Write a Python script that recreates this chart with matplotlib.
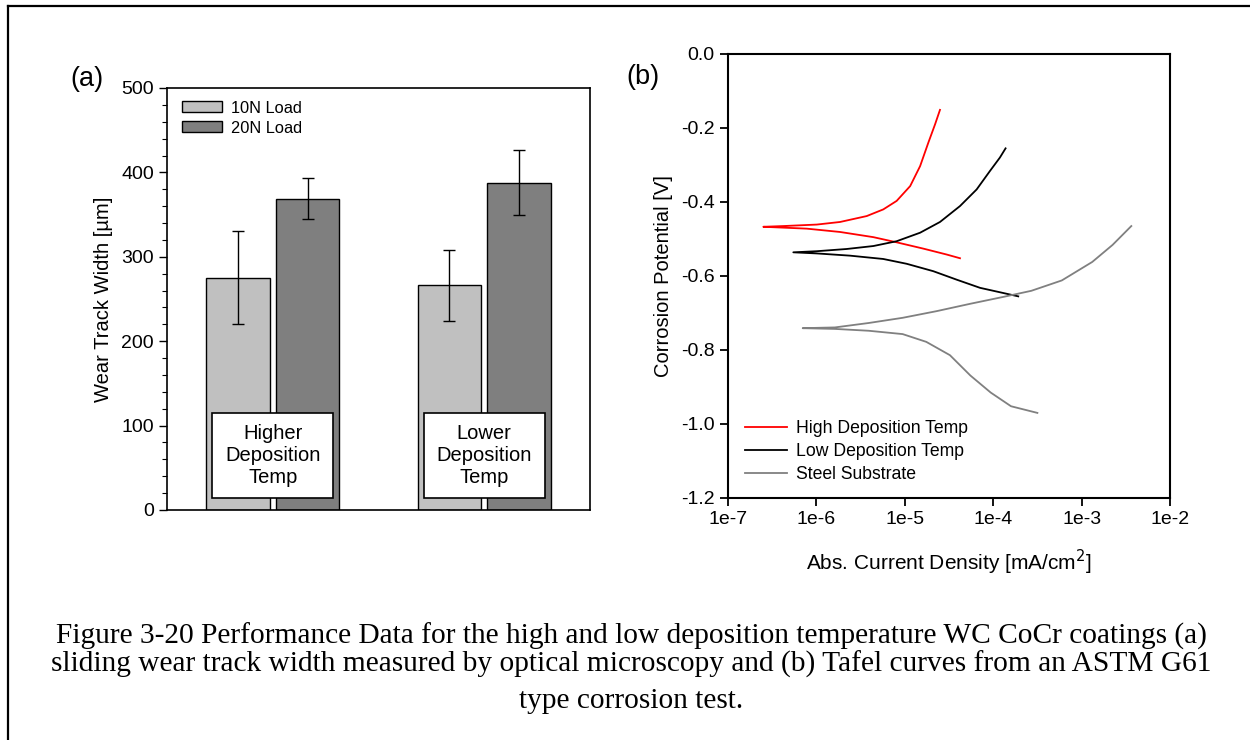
import matplotlib

matplotlib.use("Agg")

import matplotlib.pyplot as plt
from matplotlib.lines import Line2D
from matplotlib.patches import Rectangle

plt.rcParams["font.family"] = ["Liberation Sans", "DejaVu Sans"]
plt.rcParams["axes.unicode_minus"] = False

# (a) sliding wear track width
groups = ["Higher\nDeposition\nTemp", "Lower\nDeposition\nTemp"]
width_10n = [275, 266]
width_20n = [369, 388]
err_10n = [55, 42]
err_20n = [24, 38]

# (b) Tafel curves, each branch read from the Ecorr point outward
high_anodic_i = [2.51e-7, 4.23e-7, 1.01e-6, 1.85e-6, 3.71e-6, 5.71e-6, 8.09e-6, 1.15e-5, 1.49e-5, 1.85e-5, 2.20e-5, 2.50e-5]
high_anodic_v = [-0.467, -0.465, -0.461, -0.454, -0.438, -0.420, -0.397, -0.357, -0.303, -0.239, -0.190, -0.151]
high_cathodic_i = [2.51e-7, 7.76e-7, 1.85e-6, 4.41e-6, 8.09e-6, 1.62e-5, 2.98e-5, 4.21e-5]
high_cathodic_v = [-0.467, -0.472, -0.481, -0.495, -0.509, -0.526, -0.542, -0.552]

low_anodic_i = [5.48e-7, 1.01e-6, 2.20e-6, 4.41e-6, 8.09e-6, 1.49e-5, 2.50e-5, 4.21e-5, 6.50e-5, 9.20e-5, 1.19e-4, 1.38e-4]
low_anodic_v = [-0.536, -0.533, -0.527, -0.519, -0.506, -0.483, -0.454, -0.411, -0.366, -0.316, -0.280, -0.255]
low_cathodic_i = [5.48e-7, 1.01e-6, 2.40e-6, 5.71e-6, 1.05e-5, 2.10e-5, 3.87e-5, 7.10e-5, 1.42e-4, 1.92e-4]
low_cathodic_v = [-0.536, -0.539, -0.545, -0.554, -0.567, -0.587, -0.610, -0.632, -0.648, -0.655]

steel_anodic_i = [7.00e-7, 1.62e-6, 3.91e-6, 9.45e-6, 2.29e-5, 5.52e-5, 1.33e-4, 2.70e-4, 5.97e-4, 1.32e-3, 2.24e-3, 3.65e-3]
steel_anodic_v = [-0.741, -0.739, -0.727, -0.713, -0.695, -0.675, -0.656, -0.640, -0.612, -0.562, -0.516, -0.465]
steel_cathodic_i = [7.00e-7, 1.62e-6, 3.91e-6, 9.45e-6, 1.75e-5, 3.24e-5, 5.52e-5, 9.37e-5, 1.59e-4, 3.16e-4]
steel_cathodic_v = [-0.741, -0.743, -0.748, -0.757, -0.778, -0.814, -0.869, -0.915, -0.952, -0.970]

current_ticks = [1e-7, 1e-6, 1e-5, 1e-4, 1e-3, 1e-2]
current_labels = ["1e-7", "1e-6", "1e-5", "1e-4", "1e-3", "1e-2"]
potential_ticks = [-1.2, -1.0, -0.8, -0.6, -0.4, -0.2, 0.0]

caption_lines = [
    "Figure 3-20 Performance Data for the high and low deposition temperature WC CoCr coatings (a)",
    "sliding wear track width measured by optical microscopy and (b) Tafel curves from an ASTM G61",
    "type corrosion test.",
]

LIGHT = "#c0c0c0"
DARK = "#7f7f7f"

fig = plt.figure(figsize=(12.5, 7.4), dpi=100)

# ---- panel (a)
ax = fig.add_axes([167 / 1250, 1 - 510 / 740, 423 / 1250, 422 / 740])
x = [1, 2]
bw = 0.30
off = 0.165
ax.bar([v - off for v in x], width_10n, bw, color=LIGHT, edgecolor="black",
       linewidth=1.0, label="10N Load", zorder=2)
ax.bar([v + off for v in x], width_20n, bw, color=DARK, edgecolor="black",
       linewidth=1.0, label="20N Load", zorder=2)
ax.errorbar([v - off for v in x], width_10n, yerr=err_10n, fmt="none",
            ecolor="black", elinewidth=1.0, capsize=4.5, capthick=1.0, zorder=3)
ax.errorbar([v + off for v in x], width_20n, yerr=err_20n, fmt="none",
            ecolor="black", elinewidth=1.0, capsize=4.5, capthick=1.0, zorder=3)
for xi, name in zip(x, groups):
    ax.add_patch(Rectangle((xi - 0.286, 14), 0.572, 101, facecolor="white",
                           edgecolor="black", linewidth=1.2, zorder=4))
    ax.text(xi, 64.5, name, ha="center", va="center", fontsize=14.5,
            linespacing=1.22, zorder=5)
ax.set_xlim(0.5, 2.5)
ax.set_ylim(0, 500)
ax.set_xticks([])
ax.set_yticks(range(0, 501, 100))
ax.set_yticks(range(0, 501, 20), minor=True)
ax.tick_params(axis="y", which="major", direction="out", length=6, width=1.0,
               labelsize=14)
ax.tick_params(axis="y", which="minor", direction="out", length=3.5, width=0.8)
for s in ax.spines.values():
    s.set_linewidth(1.2)
ax.set_ylabel("Wear Track Width [µm]", fontsize=14.5, labelpad=6)
ax.legend(loc="upper left", bbox_to_anchor=(0.036, 0.970), frameon=False,
          fontsize=11.8, borderpad=0, borderaxespad=0, handlelength=2.4,
          handleheight=0.65, handletextpad=0.55, labelspacing=0.3)
fig.text(87 / 1250, 1 - 79 / 740, "(a)", fontsize=19.5, ha="center", va="center")

# ---- panel (b)
bx = fig.add_axes([728 / 1250, 1 - 498 / 740, 442 / 1250, 444 / 740])
series = [
    ("High Deposition Temp", "#ff0000", high_cathodic_i, high_cathodic_v, high_anodic_i, high_anodic_v),
    ("Low Deposition Temp", "black", low_cathodic_i, low_cathodic_v, low_anodic_i, low_anodic_v),
    ("Steel Substrate", "#808080", steel_cathodic_i, steel_cathodic_v, steel_anodic_i, steel_anodic_v),
]
for label, color, ci, cv, ai, av in series:
    bx.plot(ci[::-1] + ai[1:], cv[::-1] + av[1:], color=color, linewidth=1.3,
            solid_joinstyle="round", label=label)
bx.set_xscale("log")
bx.set_xlim(1e-7, 1e-2)
bx.set_ylim(-1.2, 0.0)
bx.set_xticks(current_ticks, current_labels)
bx.xaxis.set_minor_locator(plt.NullLocator())
bx.set_yticks(potential_ticks, [f"{v:.1f}" for v in potential_ticks])
bx.tick_params(direction="out", length=6, width=1.3, labelsize=14)
for s in bx.spines.values():
    s.set_linewidth(1.5)
bx.set_ylabel("Corrosion Potential [V]", fontsize=14.5, labelpad=6)
bx.set_xlabel("Abs. Current Density [mA/cm$^2$]", fontsize=15, labelpad=14)
bx.legend(loc="upper left", bbox_to_anchor=(0.038, 0.175), frameon=False,
          fontsize=12.7, borderpad=0, borderaxespad=0, handlelength=2.4,
          handletextpad=0.5, labelspacing=0.33)
fig.text(643 / 1250, 1 - 77 / 740, "(b)", fontsize=19.5, ha="center", va="center")

# ---- caption and page frame
for yb, line in zip([644, 672, 708], caption_lines):
    fig.text(631 / 1250, 1 - yb / 740, line, ha="center", va="baseline",
             fontsize=21.2, family=["Liberation Serif", "DejaVu Serif"])

fig.add_artist(Line2D([8 / 1250, 8 / 1250], [0, 1 - 6 / 740], color="black",
                      linewidth=1.6, transform=fig.transFigure))
fig.add_artist(Line2D([8 / 1250, 1], [1 - 6 / 740, 1 - 6 / 740], color="black",
                      linewidth=1.6, transform=fig.transFigure))

fig.savefig("out.png", dpi=100)
